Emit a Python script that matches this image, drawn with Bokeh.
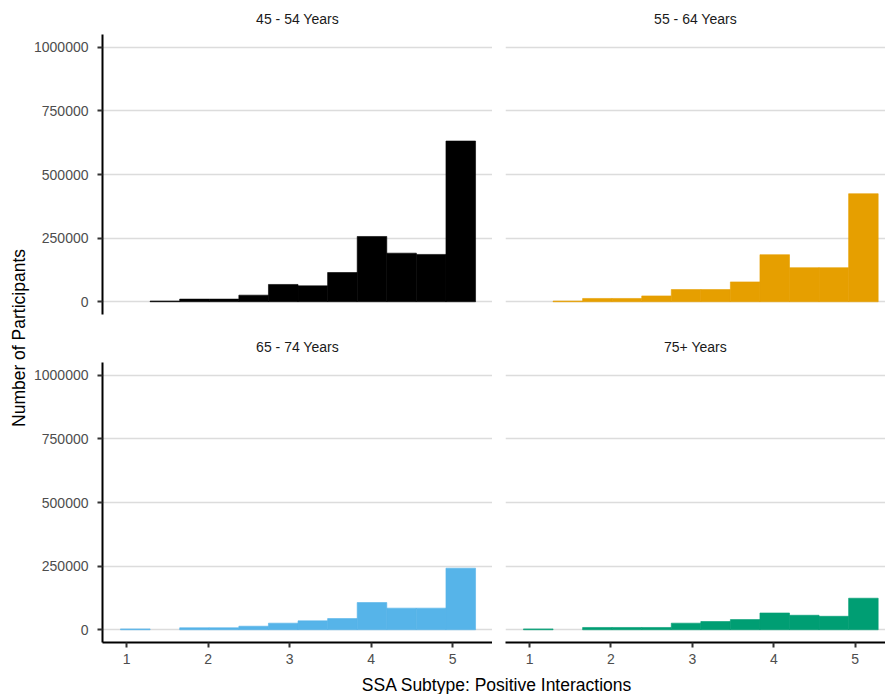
from bokeh.plotting import figure
from bokeh.models import Range1d, FixedTicker, Label, BasicTickFormatter, ColumnDataSource
from bokeh.layouts import column, row
from bokeh.embed import file_html
from bokeh.resources import INLINE
import math

# ---- data ----
panels = ["45 - 54 Years", "55 - 64 Years", "65 - 74 Years", "75+ Years"]
colors = ["#000000", "#E69F00", "#56B4E9", "#009E73"]
bin_edges = [0.926, 1.289, 1.652, 2.015, 2.378, 2.741, 3.104, 3.467, 3.830, 4.193, 4.556, 4.919, 5.282]
counts_45_54 = [0, 3000, 10500, 10500, 26000, 68000, 62500, 115000, 256500, 191000, 186000, 631500]
counts_55_64 = [0, 3000, 13000, 13000, 23000, 48000, 48000, 78000, 185000, 134000, 134000, 424500]
counts_65_74 = [3500, 0, 7800, 7800, 14000, 26000, 35000, 44000, 107000, 85000, 85000, 242000]
counts_75_up = [3500, 0, 9000, 9000, 9000, 26000, 32500, 40000, 66000, 57000, 53000, 124000]
y_ticks = [0, 250000, 500000, 750000, 1000000]
x_ticks = [1, 2, 3, 4, 5]
x_title = "SSA Subtype: Positive Interactions"
y_title = "Number of Participants"

all_counts = [counts_45_54, counts_55_64, counts_65_74, counts_75_up]

FONT = "Liberation Sans"
GRID = "#DCDCDC"

def make_panel(i):
    left_col = i % 2 == 0
    bottom_row = i >= 2
    fw = 390 if left_col else 380
    xr = Range1d(0.705, 5.49) if left_col else Range1d(0.705, 5.372)
    p = figure(
        frame_width=fw, frame_height=280,
        x_range=xr, y_range=Range1d(-50000, 1050000),
        x_axis_location="below" if bottom_row else None,
        y_axis_location="left" if left_col else None,
        toolbar_location=None, output_backend="svg",
        min_border_left=70 if left_col else 13,
        min_border_right=0,
        min_border_top=26 if bottom_row else 34,
        min_border_bottom=28 if bottom_row else 15,
        title=panels[i],
    )
    p.outline_line_color = None
    p.background_fill_color = "white"
    p.border_fill_color = "white"
    p.title.align = "center"
    p.title.text_font = FONT
    p.title.text_font_size = "14px"
    p.title.text_font_style = "normal"
    p.title.text_color = "#1A1A1A"
    p.title.standoff = 15

    p.xgrid.visible = False
    p.ygrid.ticker = FixedTicker(ticks=y_ticks)
    p.ygrid.grid_line_color = GRID
    p.ygrid.grid_line_width = 1.6

    if left_col:
        ax = p.yaxis[0]
        ax.ticker = FixedTicker(ticks=y_ticks)
        ax.formatter = BasicTickFormatter(use_scientific=False)
        ax.axis_line_color = "#000000"
        ax.axis_line_width = 2
        ax.major_tick_line_color = "#333333"
        ax.major_tick_line_width = 2
        ax.major_tick_out = 5
        ax.major_tick_in = 0
        ax.minor_tick_line_color = None
        ax.major_label_text_font = FONT
        ax.major_label_text_font_size = "14px"
        ax.major_label_text_color = "#4D4D4D"
        ax.major_label_standoff = 9
    if bottom_row:
        ax = p.xaxis[0]
        ax.ticker = FixedTicker(ticks=x_ticks)
        ax.axis_line_color = "#000000"
        ax.axis_line_width = 2
        ax.major_tick_line_color = "#333333"
        ax.major_tick_line_width = 2
        ax.major_tick_out = 5
        ax.major_tick_in = 0
        ax.minor_tick_line_color = None
        ax.major_label_text_font = FONT
        ax.major_label_text_font_size = "14px"
        ax.major_label_text_color = "#4D4D4D"
        ax.major_label_standoff = 6

    counts = all_counts[i]
    keep = [k for k in range(len(counts)) if counts[k] > 0]
    src = ColumnDataSource(dict(
        left=[bin_edges[k] for k in keep],
        right=[bin_edges[k + 1] for k in keep],
        top=[counts[k] for k in keep],
        bottom=[0] * len(keep),
    ))
    p.quad(left="left", right="right", top="top", bottom="bottom", source=src,
           fill_color=colors[i], line_color=colors[i], line_width=0.6)
    return p

ps = [make_panel(i) for i in range(4)]

H_ROWS = 670
# y-axis title strip
yt = figure(width=30, height=H_ROWS, x_range=Range1d(0, 30), y_range=Range1d(0, H_ROWS),
            toolbar_location=None, output_backend="svg",
            min_border=0, min_border_left=0, min_border_right=0,
            min_border_top=0, min_border_bottom=0,
            x_axis_location=None, y_axis_location=None)
yt.outline_line_color = None
yt.xgrid.visible = False
yt.ygrid.visible = False
yt.add_layout(Label(x=18.5, y=H_ROWS - 337.5, text=y_title, angle=math.pi / 2,
                    text_align="center", text_baseline="middle",
                    text_font=FONT, text_font_size="17.5px", text_color="#000000"))

# x-axis title strip
xt = figure(width=883, height=24, x_range=Range1d(0, 883), y_range=Range1d(0, 24),
            toolbar_location=None, output_backend="svg",
            min_border=0, min_border_left=0, min_border_right=0,
            min_border_top=0, min_border_bottom=0,
            x_axis_location=None, y_axis_location=None)
xt.outline_line_color = None
xt.xgrid.visible = False
xt.ygrid.visible = False
xt.add_layout(Label(x=496.5, y=10, text=x_title,
                    text_align="center", text_baseline="middle",
                    text_font=FONT, text_font_size="17.5px", text_color="#000000"))

grid = column(row(ps[0], ps[1]), row(ps[2], ps[3]))
layout = column(row(yt, grid), xt)

open("out.html", "w").write(file_html(layout, INLINE))
